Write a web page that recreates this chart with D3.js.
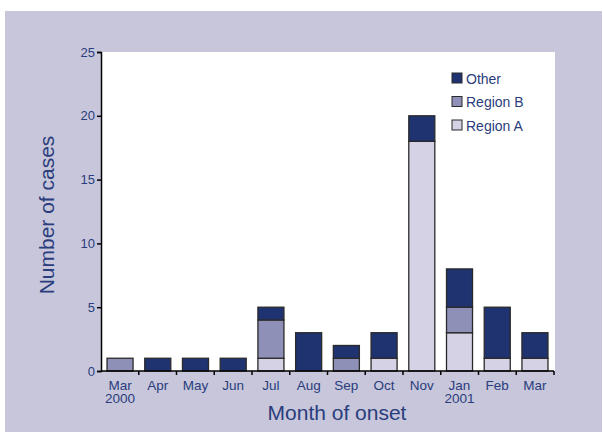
<!DOCTYPE html>
<html>
<head>
<meta charset="utf-8">
<script src="https://cdn.jsdelivr.net/npm/d3@7"></script>
<style>
  body { margin: 0; background: #fff; }
  text { font-family: "Liberation Sans", Arial, sans-serif; fill: #2a3d7c; }
</style>
</head>
<body>
<div id="chart"></div>
<script>
// month labels (second line = year where shown)
var months  = ["Mar", "Apr", "May", "Jun", "Jul", "Aug", "Sep", "Oct", "Nov", "Jan", "Feb", "Mar"];
var years   = ["2000", "", "", "", "", "", "", "", "", "2001", "", ""];
var regionA = [0, 0, 0, 0, 1, 0, 0, 1, 18, 3, 1, 1];
var regionB = [1, 0, 0, 0, 3, 0, 1, 0, 0, 2, 0, 0];
var other   = [0, 1, 1, 1, 1, 3, 1, 2, 2, 3, 4, 2];
var yTicks  = [0, 5, 10, 15, 20, 25];

var seriesNames  = ["Region A", "Region B", "Other"];
var seriesColors = ["#d4d2e4", "#8e90b8", "#1e336f"];

var width = 603, height = 432;
var margin = {top: 52, right: 49, bottom: 61, left: 101};
var w = width - margin.left - margin.right,
    h = height - margin.top - margin.bottom;

var svg = d3.select("#chart").append("svg")
    .attr("width", width)
    .attr("height", height);

// lavender panel + white plot area
svg.append("rect")
    .attr("x", 5).attr("y", 11)
    .attr("width", 597).attr("height", 421)
    .attr("fill", "#c7c6db");

var g = svg.append("g")
    .attr("transform", "translate(" + margin.left + "," + margin.top + ")");

g.append("rect")
    .attr("width", w + 1).attr("height", h)
    .attr("fill", "#fff");

var rows = months.map(function(m, i) {
    return {i: i, "Region A": regionA[i], "Region B": regionB[i], "Other": other[i]};
});

var x = d3.scaleBand()
    .domain(d3.range(months.length))
    .range([0, w])
    .paddingInner(0.31)
    .paddingOuter(0.16);

var y = d3.scaleLinear()
    .domain([0, 25])
    .range([h, 0]);

var stack = d3.stack().keys(seriesNames)(rows);

g.selectAll(".layer")
    .data(stack)
  .enter().append("g")
    .attr("fill", function(d, i) { return seriesColors[i]; })
  .selectAll("rect")
    .data(function(d) { return d.filter(function(p) { return p[1] > p[0]; }); })
  .enter().append("rect")
    .attr("x", function(d) { return x(d.data.i); })
    .attr("y", function(d) { return y(d[1]); })
    .attr("width", x.bandwidth())
    .attr("height", function(d) { return y(d[0]) - y(d[1]); })
    .attr("stroke", "#2a2a2a")
    .attr("stroke-width", 1.3);

// y axis
var yAxis = g.append("g")
    .call(d3.axisLeft(y).tickValues(yTicks).tickSize(4).tickPadding(2));
yAxis.select(".domain").attr("stroke", "#000").attr("stroke-width", 1.5);
yAxis.selectAll(".tick line").attr("stroke", "#000").attr("stroke-width", 1.5);
yAxis.selectAll("text").style("font-size", "13px").attr("fill", "#2a3d7c");

// x axis: ticks between bands
var xb = d3.scaleLinear().domain([0, months.length]).range([0, w]);
var xAxis = g.append("g")
    .attr("transform", "translate(0," + h + ")");
xAxis.append("line")
    .attr("x1", 0).attr("x2", w)
    .attr("stroke", "#000").attr("stroke-width", 1.5);
xAxis.selectAll(".xt")
    .data(d3.range(1, months.length + 1))
  .enter().append("line")
    .attr("x1", function(d) { return xb(d); })
    .attr("x2", function(d) { return xb(d); })
    .attr("y1", 0).attr("y2", 4)
    .attr("stroke", "#000").attr("stroke-width", 1.5);

function cx(i) { return x(i) + x.bandwidth() / 2; }

xAxis.selectAll(".xl")
    .data(months)
  .enter().append("text")
    .attr("text-anchor", "middle")
    .style("font-size", "13.5px")
    .attr("x", function(d, i) { return cx(i); })
    .attr("y", 19)
    .text(function(d) { return d; });

xAxis.selectAll(".yr")
    .data(years.map(function(t, i) { return {t: t, i: i}; }).filter(function(d) { return d.t; }))
  .enter().append("text")
    .attr("text-anchor", "middle")
    .style("font-size", "13.5px")
    .attr("x", function(d) { return cx(d.i); })
    .attr("y", 32)
    .text(function(d) { return d.t; });

// titles
svg.append("text")
    .attr("x", 337).attr("y", 420)
    .attr("text-anchor", "middle")
    .style("font-size", "21px")
    .text("Month of onset");

svg.append("text")
    .attr("transform", "translate(54,215) rotate(-90)")
    .attr("text-anchor", "middle")
    .style("font-size", "21px")
    .text("Number of cases");

// legend (Other on top)
var legendItems = seriesNames.slice().reverse();
var legendColors = seriesColors.slice().reverse();
var lg = svg.append("g").attr("transform", "translate(452,73)");
legendItems.forEach(function(name, i) {
    lg.append("rect")
        .attr("x", 0).attr("y", i * 23.5)
        .attr("width", 10).attr("height", 10)
        .attr("fill", legendColors[i])
        .attr("stroke", "#2a2a2a").attr("stroke-width", 1);
    lg.append("text")
        .attr("x", 14).attr("y", i * 23.5 + 10.5)
        .style("font-size", "14px")
        .text(name);
});
</script>
</body>
</html>
